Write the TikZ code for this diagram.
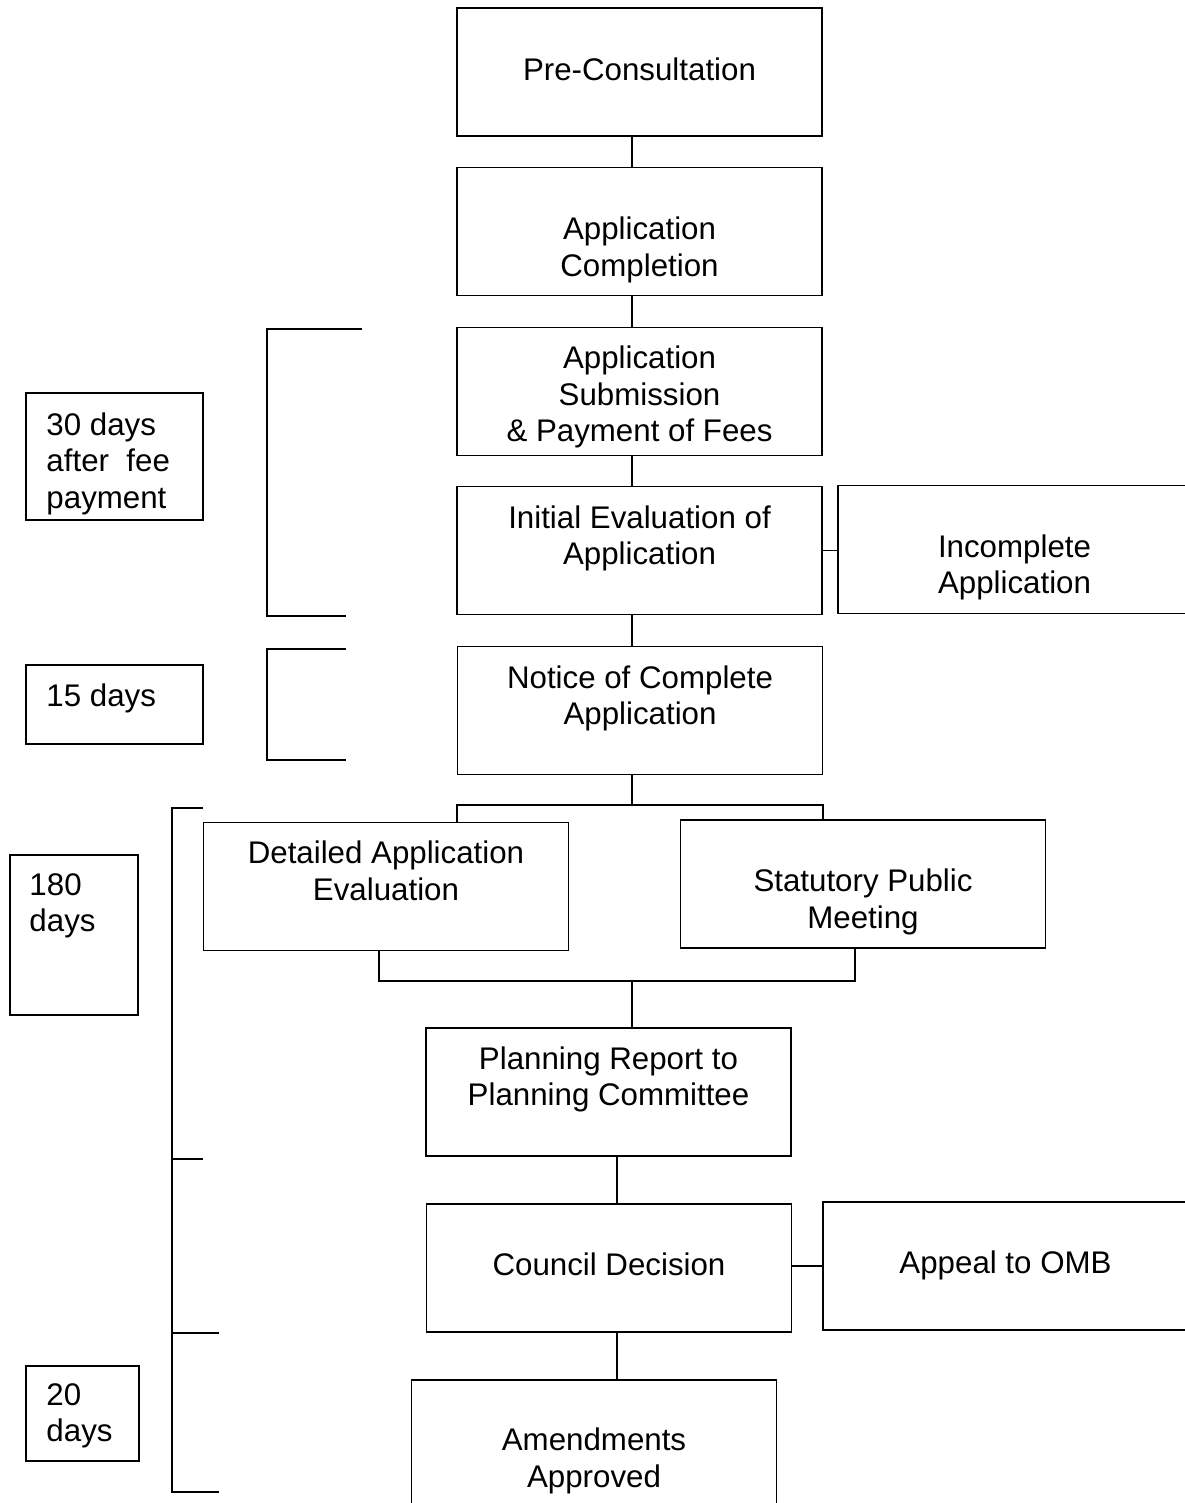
\documentclass[tikz,border=0pt]{standalone}
\usepackage{fontspec}
\setmainfont{Liberation Sans}
\begin{document}
\begin{tikzpicture}[x=0.02cm,y=-0.02cm,
    box/.style={draw,line width=1pt,minimum width=7.3cm,minimum height=2.56cm,inner sep=0pt},
    daybox/.style={draw,line width=1pt,inner sep=0pt},
    txt/.style={align=center,inner sep=0pt,font=\fontsize{17.8}{20.8}\selectfont},
    daytxt/.style={align=left,inner sep=0pt,anchor=west,font=\fontsize{17.8}{20.8}\selectfont},
    link/.style={line width=0.9pt},
    bracket/.style={line width=0.9pt}]
  \useasboundingbox[fill=white] (0,0) rectangle (1184,1503);
  \coordinate (spine) at (632,0);
  \coordinate (spine2) at (617,0);
  % main flow
  \node[box,label={[txt,yshift=0.06cm]center:Pre-Consultation}] (pre) at (639.5,72) {};
  \node[box,label={[txt,yshift=-0.37cm]center:Application\\Completion}] (compl) at (639.5,231.5) {};
  \node[box,label={[txt,yshift=-0.11cm]center:Application\\Submission\\\& Payment of Fees}] (subm) at (639.5,391.5) {};
  \node[box,label={[txt,yshift=0.24cm]center:Initial Evaluation of\\Application}] (init) at (639.5,550.5) {};
  \node[box,label={[txt,yshift=-0.36cm,xshift=-0.12cm]center:Incomplete\\Application}] (incompl) at (1020.5,549.5) {};
  \node[box,label={[txt,yshift=0.24cm]center:Notice of Complete\\Application}] (notice) at (640,710.5) {};
  \node[box,label={[txt,yshift=0.31cm]center:Detailed Application\\Evaluation}] (detail) at (386,886.5) {};
  \node[box,label={[txt,yshift=-0.36cm]center:Statutory Public\\Meeting}] (stat) at (863,884) {};
  \node[box,label={[txt,yshift=0.25cm]center:Planning Report to\\Planning Committee}] (plan) at (608.5,1092) {};
  \node[box,label={[txt,yshift=0.08cm]center:Council Decision}] (council) at (609,1268) {};
  \node[box,label={[txt,yshift=0.02cm]center:Appeal to OMB}] (appeal) at (1005.5,1266) {};
  \node[box,label={[txt,yshift=-0.34cm]center:Amendments\\Approved}] (amend) at (594,1444) {};
  % time boxes
  \node[daybox,minimum width=3.54cm,minimum height=2.54cm,
    label={[daytxt,xshift=0.42cm,yshift=-0.14cm]west:30 days\\after\ \ fee\\payment}] (d30) at (114.5,456.5) {};
  \node[daybox,minimum width=3.54cm,minimum height=1.58cm,
    label={[daytxt,xshift=0.42cm,yshift=0.13cm]west:15 days}] (d15) at (114.5,704.5) {};
  \node[daybox,minimum width=2.56cm,minimum height=3.2cm,
    label={[daytxt,xshift=0.4cm,yshift=0.58cm]west:180\\days}] (d180) at (74,935) {};
  \node[daybox,minimum width=2.26cm,minimum height=1.9cm,
    label={[daytxt,xshift=0.42cm,yshift=-0.05cm]west:20\\days}] (d20) at (82.5,1413.5) {};
  % connectors
  \draw[link] (pre.south -| spine) -- (compl.north -| spine);
  \draw[link] (compl.south -| spine) -- (subm.north -| spine);
  \draw[link] (subm.south -| spine) -- (init.north -| spine);
  \draw[link] (init.south -| spine) -- (notice.north -| spine);
  \draw[link] (init.east) -- (init.east -| incompl.west);
  \coordinate (splitL) at (457,805);
  \coordinate (splitR) at (823,805);
  \draw[link] (notice.south -| spine) -- (spine |- splitL);
  \draw[link] (splitL |- detail.north) -- (splitL) -- (splitR) -- (splitR |- stat.north);
  \coordinate (mergeL) at (379,981);
  \coordinate (mergeR) at (855,981);
  \draw[link] (mergeL |- detail.south) -- (mergeL) -- (mergeR) -- (mergeR |- stat.south);
  \draw[link] (spine |- mergeL) -- (spine |- plan.north);
  \draw[link] (spine2 |- plan.south) -- (spine2 |- council.north);
  \draw[link] (appeal.west -| council.east) -- (appeal.west);
  \draw[link] (spine2 |- council.south) -- (spine2 |- amend.north);
  % brackets
  \draw[bracket] (362,329) -| (267,616) -- (346,616);
  \draw[bracket] (346,649) -| (267,760) -- (346,760);
  \draw[bracket] (203,808) -| (172,1492) -- (219,1492);
  \draw[bracket] (172,1159) -- (203,1159);
  \draw[bracket] (172,1333) -- (219,1333);
\end{tikzpicture}
\end{document}
